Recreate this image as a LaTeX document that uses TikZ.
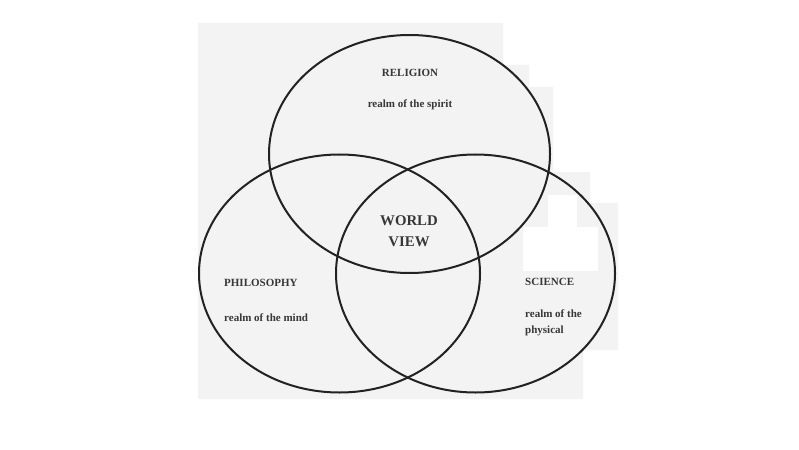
\documentclass[tikz,border=0pt]{standalone}
\usepackage{fontspec}
\setmainfont{Liberation Serif}
\usetikzlibrary{shapes.geometric}
\definecolor{scan}{RGB}{243,243,243}
\definecolor{ink}{RGB}{34,34,34}
\definecolor{txt}{RGB}{55,55,55}
\tikzset{
  realm/.style={draw=ink, line width=2pt, ellipse, inner sep=0pt, minimum width=281pt, minimum height=238pt},
  lbl/.style={text=txt, inner sep=0pt, font=\bfseries\fontsize{11}{16}\selectfont},
  big/.style={text=txt, inner sep=0pt, align=center, font=\bfseries\fontsize{14.8}{21}\selectfont}
}
\begin{document}
\begin{tikzpicture}[x=1pt,y=-1pt]
\useasboundingbox (0,0) rectangle (799,449);
% scanned page background
\fill[scan] (198,23) -- (503,23) -- (503,65) -- (529,65) -- (529,87) -- (553,87) -- (553,172)
  -- (590,172) -- (590,203) -- (618,203) -- (618,350) -- (583,350) -- (583,399) -- (198,399) -- cycle;
\fill[white] (548,195) rectangle (577,227);
\fill[white] (523,227) rectangle (598,271);
% circles
\node[realm] (religion) at (409.5,154) {};
\node[realm] (philosophy) at (339.5,273.5) {};
\node[realm, minimum width=279pt] (science) at (475.5,273.5) {};
% labels
\node[lbl] (rel) at (410,72.5) {RELIGION};
\node[lbl] (relr) at (410,105) {realm of the spirit};
\node[lbl, anchor=west] (phi) at (224,283) {PHILOSOPHY};
\node[lbl, anchor=west] (phir) at (224,318) {realm of the mind};
\node[lbl, anchor=west] (sci) at (525,282) {SCIENCE};
\node[lbl, anchor=west, align=left] (scir) at (525,323) {realm of the\\physical};
\node[big] (wv) at (409,231.5) {WORLD\\VIEW};
\end{tikzpicture}
\end{document}
